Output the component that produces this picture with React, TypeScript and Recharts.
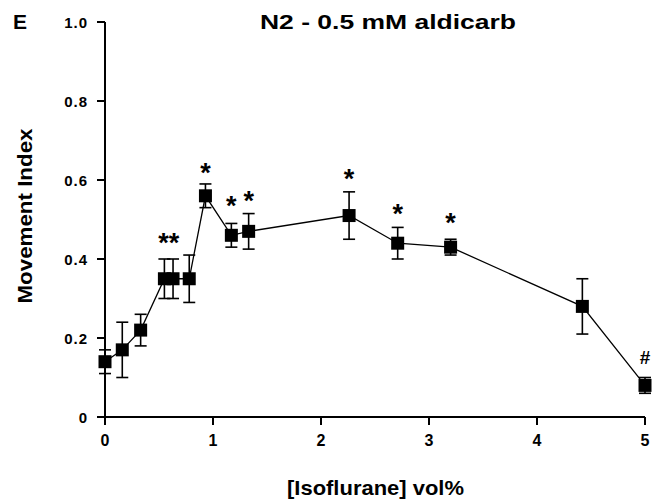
import React from "react";
import {
  ComposedChart,
  Line,
  Scatter,
  XAxis,
  YAxis,
  ErrorBar,
} from "recharts";

const concentrations = [0, 0.16, 0.33, 0.55, 0.63, 0.78, 0.93, 1.17, 1.33, 2.26, 2.71, 3.2, 4.42, 5.0];
const movementIndex = [0.14, 0.17, 0.22, 0.35, 0.35, 0.35, 0.56, 0.46, 0.47, 0.51, 0.44, 0.43, 0.28, 0.08];
const sem = [0.03, 0.07, 0.04, 0.05, 0.05, 0.06, 0.03, 0.03, 0.045, 0.06, 0.04, 0.02, 0.07, 0.02];

const marks = ["**", "*", "*", "*", "*", "*", "*", "#"];
const markX = [0.59, 0.93, 1.17, 1.33, 2.26, 2.71, 3.2, 5.0];
const markY = [0.456, 0.633, 0.549, 0.562, 0.618, 0.529, 0.506, 0.152];

const xTicks = [0, 1, 2, 3, 4, 5];
const yTicks = [0, 0.2, 0.4, 0.6, 0.8, 1.0];

const FONT = '"Liberation Sans", Arial, sans-serif';

const data = concentrations.map((x, i) => ({ x, y: movementIndex[i], err: sem[i] }));
const markData = marks.map((label, i) => ({ x: markX[i], y: markY[i], label }));

const SquareDot = (props: any) => {
  const { cx, cy, index } = props;
  if (cx == null || cy == null) return null;
  return <rect key={`sq-${index}`} x={cx - 6.5} y={cy - 6.5} width={13} height={13} fill="#000" />;
};

const MarkText = (props: any) => {
  const { cx, cy, payload } = props;
  const isHash = payload.label === "#";
  const fs = isHash ? 19 : 27;
  // shift baseline so the glyph centre sits at cy
  const dy = isHash ? 0.36 * fs : 0.56 * fs;
  return (
    <text
      x={cx}
      y={cy + dy}
      textAnchor="middle"
      fontFamily={FONT}
      fontWeight="bold"
      fontSize={fs}
      fill="#000"
    >
      {payload.label}
    </text>
  );
};

const fmtY = (v: number) => (v === 0 ? "0" : v.toFixed(1));

const XTick = (props: any) => {
  const { x, y, payload } = props;
  return (
    <text x={x} y={y + 15} textAnchor="middle" fontFamily={FONT} fontWeight="bold" fontSize={16} fill="#000">
      {payload.value}
    </text>
  );
};

const YTick = (props: any) => {
  const { x, y, payload } = props;
  const label = fmtY(payload.value);
  return (
    <text
      x={x}
      y={y + 5.5}
      textAnchor="end"
      fontFamily={FONT}
      fontWeight="bold"
      fontSize={15}
      letterSpacing={1}
      fill="#000"
    >
      {label}
    </text>
  );
};

export default function App() {
  return (
    <div style={{ position: "absolute", left: 0, top: 0, background: "#fff" }}>
      <ComposedChart
        width={672}
        height={504}
        data={data}
        margin={{ top: 22, right: 27, bottom: 47, left: 45 }}
      >
        <XAxis
          type="number"
          dataKey="x"
          domain={[0, 5]}
          ticks={xTicks}
          height={40}
          stroke="#000"
          strokeWidth={2}
          tickSize={8}
          tickMargin={6}
          tick={XTick}
        />
        <YAxis
          type="number"
          domain={[0, 1]}
          ticks={yTicks}
          width={60}
          stroke="#000"
          strokeWidth={2}
          tickSize={8}
          tickMargin={9}
          tick={YTick}
        />
        <Line
          dataKey="y"
          stroke="#000"
          strokeWidth={1.3}
          dot={SquareDot}
          activeDot={false}
          isAnimationActive={false}
        >
          <ErrorBar dataKey="err" direction="y" width={6} stroke="#000" strokeWidth={1.6} />
        </Line>
        <Scatter data={markData} dataKey="y" shape={MarkText} isAnimationActive={false} />
        <text x={13} y={29} fontFamily={FONT} fontWeight="bold" fontSize={21} fill="#000">
          E
        </text>
        <text
          x={388}
          y={29}
          textAnchor="middle"
          fontFamily={FONT}
          fontWeight="bold"
          fontSize={21}
          textLength={256}
          lengthAdjust="spacingAndGlyphs"
          fill="#000"
        >
          N2 - 0.5 mM aldicarb
        </text>
        <text
          x={375.5}
          y={495}
          textAnchor="middle"
          fontFamily={FONT}
          fontWeight="bold"
          fontSize={21}
          textLength={177}
          lengthAdjust="spacingAndGlyphs"
          fill="#000"
        >
          [Isoflurane] vol%
        </text>
        <text
          x={32}
          y={216}
          transform="rotate(-90 32 216)"
          textAnchor="middle"
          fontFamily={FONT}
          fontWeight="bold"
          fontSize={21}
          textLength={175}
          lengthAdjust="spacingAndGlyphs"
          fill="#000"
        >
          Movement Index
        </text>
      </ComposedChart>
    </div>
  );
}
